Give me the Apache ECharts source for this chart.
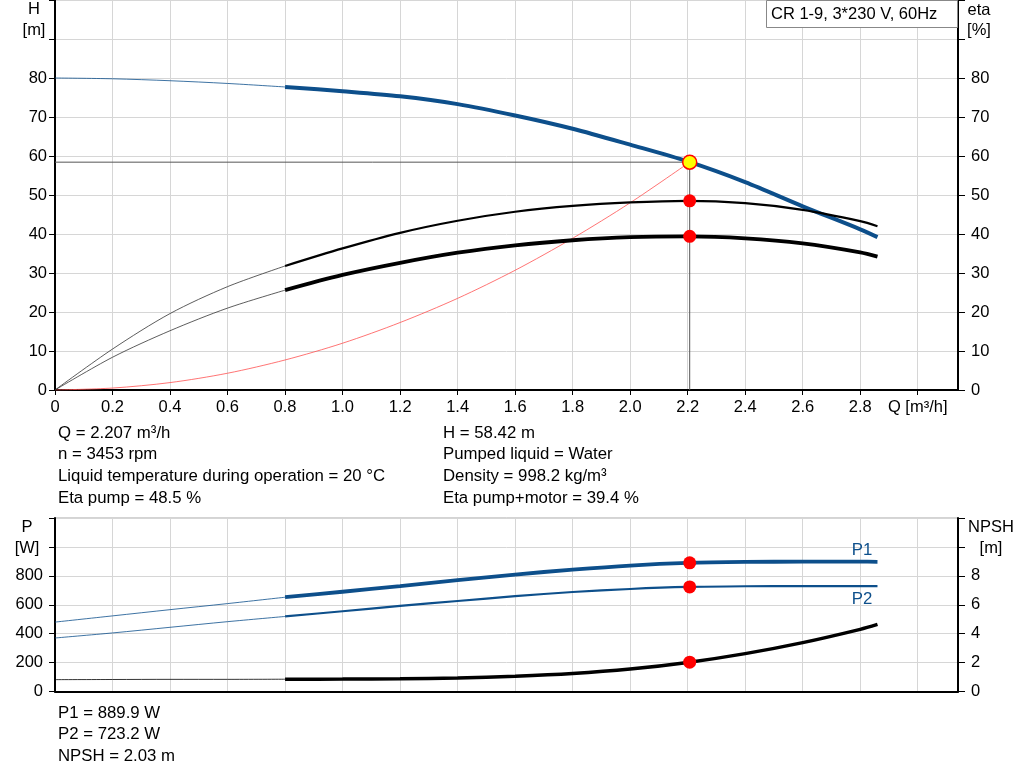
<!DOCTYPE html>
<html><head><meta charset="utf-8">
<script src="https://cdn.jsdelivr.net/npm/echarts@6/dist/echarts.min.js"></script>
<style>html,body{margin:0;padding:0;background:#fff}#c{width:1024px;height:781px}</style>
</head><body><div id="c"></div>
<script>
// ---------- data ----------
const qThin  = [0, 0.2, 0.4, 0.6, 0.8];
const qThick = [0.8, 1.0, 1.2, 1.4, 1.6, 1.8, 2.0, 2.2, 2.4, 2.6, 2.8, 2.86];

const headThin  = [80, 79.8, 79.3, 78.6, 77.7];
const headThick = [77.7, 76.6, 75.3, 73.3, 70.4, 67.0, 62.9, 58.6, 53.3, 47.1, 41.2, 39.2];

const etaPumpThin  = [0, 10.5, 19.6, 26.5, 31.8];
const etaPumpThick = [31.8, 36.3, 40.3, 43.4, 45.7, 47.2, 48.1, 48.5, 47.9, 46.2, 43.3, 42.0];
const etaTotThin   = [0, 8.4, 15.2, 21.0, 25.6];
const etaTotThick  = [25.6, 29.5, 32.6, 35.2, 37.1, 38.4, 39.2, 39.4, 38.9, 37.6, 35.3, 34.2];

const systemQ = [0, 0.2, 0.4, 0.6, 0.8, 1.0, 1.2, 1.4, 1.6, 1.8, 2.0, 2.207];
const systemH = [0, 0.5, 1.9, 4.3, 7.7, 12.0, 17.3, 23.5, 30.7, 38.9, 48.0, 58.42];

const p1Thin  = [480, 523, 566, 608, 652];
const p1Thick = [652, 690, 729, 770, 809, 843, 871, 889, 896, 898, 898, 897];
const p2Thin  = [370, 405, 444, 483, 519];
const p2Thick = [519, 555, 592, 626, 659, 688, 709, 723, 728, 729, 729, 729];
const npshThin  = [0.82, 0.83, 0.84, 0.84, 0.85];
const npshThick = [0.85, 0.86, 0.88, 0.93, 1.05, 1.24, 1.55, 2.01, 2.62, 3.38, 4.3, 4.64];

const opQ = 2.207, opH = 58.42, opEtaPump = 48.5, opEtaTot = 39.4;
const opP1 = 889.9, opP2 = 723.2, opNPSH = 2.03;

const infoLeft  = ['Q = 2.207 m³/h', 'n = 3453 rpm', 'Liquid temperature during operation = 20 °C', 'Eta pump = 48.5 %'];
const infoRight = ['H = 58.42 m', 'Pumped liquid = Water', 'Density = 998.2 kg/m³', 'Eta pump+motor = 39.4 %'];
const infoBottom = ['P1 = 889.9 W', 'P2 = 723.2 W', 'NPSH = 2.03 m'];
const title = 'CR 1-9, 3*230 V, 60Hz';

// ---------- helpers ----------
const zip = (xs, ys) => xs.map((x, i) => [x, ys[i]]);
const BLUE = '#0d4f8b';
const FONT = 'Liberation Sans, Arial, sans-serif';
const FS = 16.5;

function line(name, xs, ys, xi, yi, color, width, extra) {
  return Object.assign({
    name, type: 'line', xAxisIndex: xi, yAxisIndex: yi, data: zip(xs, ys),
    smooth: 0.3, showSymbol: false, symbol: 'none', silent: true,
    lineStyle: { color, width }, z: 3
  }, extra || {});
}
function dot(name, x, y, xi, yi, fill, border, size) {
  return { name, type: 'scatter', xAxisIndex: xi, yAxisIndex: yi, data: [[x, y]],
    symbolSize: size, itemStyle: { color: fill, borderColor: border, borderWidth: border ? 1.5 : 0, opacity: 1 }, z: 10, silent: true };
}

const L = 55, R = 1024 - 958;
const xLab = v => (v > 2.95 && v < 3.05) ? 'Q [m³/h]' : (v > 3.05 ? '' : (v === 0 ? '0' : v.toFixed(1)));

const axisTxt = { color: '#000', fontFamily: FONT, fontSize: FS };

const option = {
  backgroundColor: '#fff',
  animation: false,
  grid: [
    { left: L, right: R, top: 0, height: 390, show: true, borderColor: '#a8a8a8', borderWidth: 1, backgroundColor: '#fff' },
    { left: L, right: R, top: 518, height: 173.5, show: true, borderColor: '#a8a8a8', borderWidth: 1, backgroundColor: '#fff' }
  ],
  xAxis: [
    { gridIndex: 0, type: 'value', min: 0, max: 3.14, interval: 0.2,
      axisLine: { show: true, onZero: false, lineStyle: { color: '#000', width: 2 } },
      axisTick: { show: true, length: 5, lineStyle: { color: '#000' } },
      axisLabel: Object.assign({ margin: 9, formatter: xLab, showMaxLabel: false }, axisTxt),
      splitLine: { show: true, lineStyle: { color: '#d6d6d6', width: 1 } } },
    { gridIndex: 1, type: 'value', min: 0, max: 3.14, interval: 0.2,
      axisLine: { show: true, onZero: false, lineStyle: { color: '#000', width: 2 } },
      axisTick: { show: false }, axisLabel: { show: false },
      splitLine: { show: true, lineStyle: { color: '#d6d6d6', width: 1 } } }
  ],
  yAxis: [
    { gridIndex: 0, type: 'value', min: 0, max: 100, interval: 10, position: 'left',
      axisLine: { show: true, lineStyle: { color: '#000', width: 2 } },
      axisTick: { show: true, length: 6, lineStyle: { color: '#000' } },
      axisLabel: Object.assign({ margin: 8, formatter: v => v > 80 ? '' : String(v) }, axisTxt),
      splitLine: { show: true, lineStyle: { color: '#d6d6d6', width: 1 } } },
    { gridIndex: 0, type: 'value', min: 0, max: 100, interval: 10, position: 'right',
      axisLine: { show: true, lineStyle: { color: '#000', width: 2 } },
      axisTick: { show: true, length: 7, lineStyle: { color: '#000' } },
      axisLabel: Object.assign({ margin: 13, formatter: v => v > 80 ? '' : String(v) }, axisTxt),
      splitLine: { show: false } },
    { gridIndex: 1, type: 'value', min: 0, max: 1200, interval: 200, position: 'left',
      axisLine: { show: true, lineStyle: { color: '#000', width: 2 } },
      axisTick: { show: true, length: 6, lineStyle: { color: '#000' } },
      axisLabel: Object.assign({ margin: 12, formatter: v => v > 800 ? '' : String(v) }, axisTxt),
      splitLine: { show: true, lineStyle: { color: '#d6d6d6', width: 1 } } },
    { gridIndex: 1, type: 'value', min: 0, max: 12, interval: 2, position: 'right',
      axisLine: { show: true, lineStyle: { color: '#000', width: 2 } },
      axisTick: { show: true, length: 7, lineStyle: { color: '#000' } },
      axisLabel: Object.assign({ margin: 13, formatter: v => v > 8 ? '' : String(v) }, axisTxt),
      splitLine: { show: false } }
  ],
  series: [
    // operating point guide lines
    line('opH', [0, opQ], [opH, opH], 0, 0, '#555', 1, { smooth: false, z: 2 }),
    line('opQ', [opQ, opQ], [0, opH], 0, 0, '#555', 1, { smooth: false, z: 2 }),
    // system curve
    line('system', systemQ, systemH, 0, 0, '#ff5050', 0.8, { z: 2 }),
    // head
    line('H thin', qThin, headThin, 0, 0, BLUE, 0.8),
    line('H', qThick, headThick, 0, 0, BLUE, 4),
    // efficiencies
    line('eta pump thin', qThin, etaPumpThin, 0, 1, '#333', 0.8),
    line('eta pump', qThick, etaPumpThick, 0, 1, '#000', 2.2),
    line('eta tot thin', qThin, etaTotThin, 0, 1, '#333', 0.8),
    line('eta tot', qThick, etaTotThick, 0, 1, '#000', 3.8),
    dot('op H', opQ, opH, 0, 0, '#ffff00', '#ff0000', 14),
    dot('op eta pump', opQ, opEtaPump, 0, 1, '#ff0000', null, 13),
    dot('op eta tot', opQ, opEtaTot, 0, 1, '#ff0000', null, 13),
    // power & NPSH
    line('P1 thin', qThin, p1Thin, 1, 2, BLUE, 0.8),
    line('P1', qThick, p1Thick, 1, 2, BLUE, 3.8),
    line('P2 thin', qThin, p2Thin, 1, 2, BLUE, 0.8),
    line('P2', qThick, p2Thick, 1, 2, BLUE, 2.2),
    line('NPSH thin', qThin, npshThin, 1, 3, '#000', 0.8),
    line('NPSH', qThick, npshThick, 1, 3, '#000', 3.5),
    dot('op P1', opQ, opP1, 1, 2, '#ff0000', null, 13),
    dot('op P2', opQ, opP2, 1, 2, '#ff0000', null, 13),
    dot('op NPSH', opQ, opNPSH, 1, 3, '#ff0000', null, 13)
  ],
  graphic: []
};

const g = option.graphic;
function txt(x, y, text, align, color, size) {
  g.push({ type: 'text', x, y, silent: true, z: 100,
    style: { text, x: 0, y: 0, fill: color || '#000', font: (size || FS) + 'px ' + FONT,
      textAlign: align || 'left', textVerticalAlign: 'middle' } });
}
// axis titles
txt(34, 9, 'H', 'center'); txt(34, 30, '[m]', 'center');
txt(979, 10, 'eta', 'center'); txt(979, 30, '[%]', 'center');
txt(27, 527, 'P', 'center'); txt(27, 548, '[W]', 'center');
txt(991, 527, 'NPSH', 'center'); txt(991, 548, '[m]', 'center');
// title box
g.push({ type: 'rect', shape: { x: 766.5, y: 0.5, width: 191, height: 27 }, silent: true, z: 90,
  style: { fill: '#fff', stroke: '#888', lineWidth: 1 } });
txt(771, 14, title, 'left', '#000', 16.5);
// info lines
infoLeft.forEach((t, i) => txt(58, 433 + i * 21.7, t, 'left', '#000', 16.8));
infoRight.forEach((t, i) => txt(443, 433 + i * 21.7, t, 'left', '#000', 16.8));
infoBottom.forEach((t, i) => txt(58, 713 + i * 21.5, t, 'left', '#000', 16.8));
// curve labels
txt(862, 550, 'P1', 'center', BLUE, 16.8);
txt(862, 599, 'P2', 'center', BLUE, 16.8);

const chart = echarts.init(document.getElementById('c'), null, { renderer: 'canvas' });
chart.setOption(option);
</script></body></html>
